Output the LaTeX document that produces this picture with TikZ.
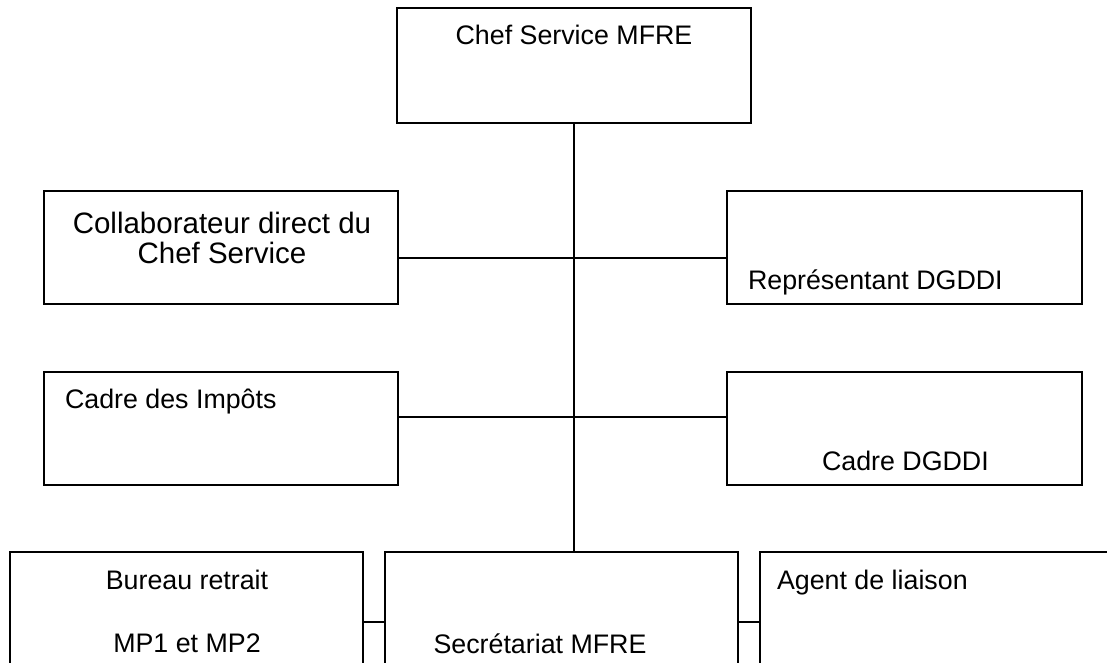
\documentclass[tikz,border=0pt]{standalone}
\usepackage{fontspec}
\setmainfont{Liberation Sans}
\begin{document}
\begin{tikzpicture}[x=1pt,y=-1pt,
  box/.style={draw=black,line width=2.5pt,rectangle,inner sep=0pt,outer sep=0pt,minimum width=#1,minimum height=113pt},
  box/.default=354pt,
  link/.style={draw=black,line width=1.7pt},
  txt/.style={inner sep=0pt,outer sep=0pt,font=\fontsize{26.8}{32}\selectfont},
  bigtxt/.style={inner sep=0pt,outer sep=0pt,font=\fontsize{29.5}{30}\selectfont,align=center}]
\clip (0,0) rectangle (1107,663);
\useasboundingbox (0,0) rectangle (1107,663);
% boxes
\node[box,minimum height=115pt] (top) at (574,65.5) {};
\node[box] (l1) at (221,247.5) {};
\node[box=355pt] (r1) at (904.5,247.5) {};
\node[box] (l2) at (221,428.5) {};
\node[box=355pt] (r2) at (904.5,428.5) {};
\node[box=353pt,minimum height=148pt] (ba) at (186.5,626) {};
\node[box=353pt,minimum height=148pt] (bb) at (561.5,626) {};
\node[box=353pt,minimum height=148pt] (bc) at (936.5,626) {};
% connectors
\draw[link] (top.south) -- (top.south |- bb.north);
\draw[link] (l1.east |- 0,258) -- (r1.west |- 0,258);
\draw[link] (l2.east |- 0,417) -- (r2.west |- 0,417);
\draw[link] (ba.east |- 0,622) -- (bb.west |- 0,622);
\draw[link] (bb.east |- 0,622) -- (bc.west |- 0,622);
% texts
\node[txt,anchor=base] (t0) at (574,45) {Chef Service MFRE};
\node[bigtxt,anchor=base] (t1a) at (222,233) {Collaborateur direct du};
\node[bigtxt,anchor=base] (t1b) at (222,263) {Chef Service};
\node[txt,anchor=base west] (t2) at (748,289) {Représentant DGDDI};
\node[txt,anchor=base west] (t3) at (65,408) {Cadre des Impôts};
\node[txt,anchor=base west] (t4) at (822,470) {Cadre DGDDI};
\node[txt,anchor=base] (t5) at (187,589) {Bureau retrait};
\node[txt,anchor=base] (t6) at (187,652) {MP1 et MP2};
\node[txt,anchor=base] (t7) at (540,653) {Secrétariat MFRE};
\node[txt,anchor=base west] (t8) at (777,589) {Agent de liaison};
\end{tikzpicture}
\end{document}
